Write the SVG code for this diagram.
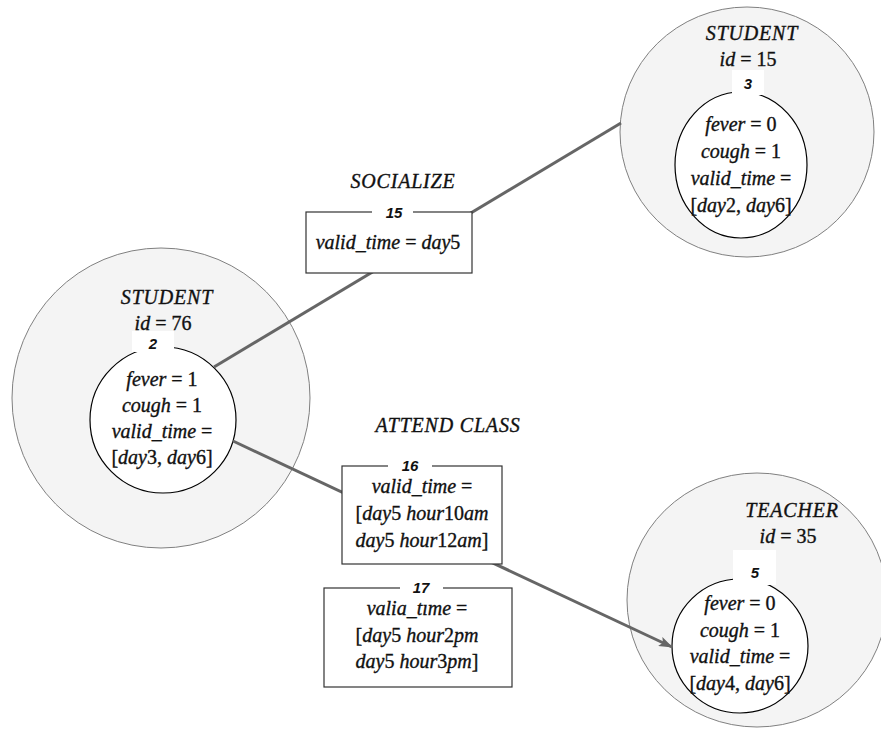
<svg xmlns="http://www.w3.org/2000/svg" width="881" height="733" viewBox="0 0 881 733">
  <style>
    .outer { fill: #f4f4f4; stroke: #808080; stroke-width: 1; }
    .inner { fill: #ffffff; stroke: #000000; stroke-width: 1.2; }
    .box { fill: #ffffff; stroke: #333333; stroke-width: 1.2; }
    .gap { fill: #ffffff; stroke: none; }
    .edge { fill: none; stroke: #666666; stroke-width: 3; }
    .m { font-family: "Liberation Serif", "DejaVu Serif", serif; font-size: 20px; fill: #111111; stroke: #111111; stroke-width: 0.35; text-anchor: middle; }
    .i { font-style: italic; }
    .cap { letter-spacing: 0.8px; }
    .num { font-family: "Liberation Sans", Arial, sans-serif; font-size: 15px; font-weight: bold; font-style: italic; fill: #111111; text-anchor: middle; }
  </style>
  <defs>
    <marker id="arrow" markerWidth="14" markerHeight="10" refX="13" refY="5" orient="auto" markerUnits="userSpaceOnUse">
      <path d="M0,0 L14,5 L0,10 L3,5 Z" fill="#666666"/>
    </marker>
  </defs>

  <!-- entity nodes -->
  <g id="node-student-15">
    <ellipse class="outer" cx="747" cy="132" rx="127" ry="125"/>
    <ellipse class="inner" cx="741" cy="165" rx="66" ry="73"/>
    <text class="m i cap" x="752" y="40">STUDENT</text>
    <text class="m" x="748" y="66"><tspan class="i">id</tspan> = 15</text>
    <rect class="gap" x="732" y="70" width="32" height="25"/>
    <text class="num" x="748" y="89">3</text>
    <text class="m" x="741" y="131"><tspan class="i">fever</tspan> = 0</text>
    <text class="m" x="741" y="158"><tspan class="i">cough</tspan> = 1</text>
    <text class="m" x="741" y="185"><tspan class="i">valid_time</tspan> =</text>
    <text class="m" x="741" y="212">[<tspan class="i">day</tspan>2, <tspan class="i">day</tspan>6]</text>
  </g>

  <g id="node-student-76">
    <ellipse class="outer" cx="161" cy="398" rx="149" ry="150"/>
    <ellipse class="inner" cx="163" cy="420" rx="73" ry="73"/>
    <text class="m i cap" x="167" y="304">STUDENT</text>
    <text class="m" x="163" y="330"><tspan class="i">id</tspan> = 76</text>
    <rect class="gap" x="132" y="331" width="42" height="21"/>
    <text class="num" x="153" y="349">2</text>
    <text class="m" x="162" y="386"><tspan class="i">fever</tspan> = 1</text>
    <text class="m" x="162" y="412"><tspan class="i">cough</tspan> = 1</text>
    <text class="m" x="162" y="438"><tspan class="i">valid_time</tspan> =</text>
    <text class="m" x="162" y="464">[<tspan class="i">day</tspan>3, <tspan class="i">day</tspan>6]</text>
  </g>

  <g id="node-teacher-35">
    <ellipse class="outer" cx="757" cy="600" rx="130" ry="127"/>
    <ellipse class="inner" cx="740" cy="646" rx="68" ry="67"/>
    <text class="m i cap" x="792" y="517">TEACHER</text>
    <text class="m" x="788" y="543"><tspan class="i">id</tspan> = 35</text>
    <rect class="gap" x="733" y="550" width="43" height="35"/>
    <text class="num" x="755" y="578">5</text>
    <text class="m" x="740" y="610"><tspan class="i">fever</tspan> = 0</text>
    <text class="m" x="740" y="637"><tspan class="i">cough</tspan> = 1</text>
    <text class="m" x="740" y="663"><tspan class="i">valid_time</tspan> =</text>
    <text class="m" x="740" y="690">[<tspan class="i">day</tspan>4, <tspan class="i">day</tspan>6]</text>
  </g>

  <!-- relationship connectors -->
  <g id="connectors">
    <line class="edge" x1="214" y1="367" x2="621" y2="123"/>
    <line class="edge" x1="233" y1="441" x2="672" y2="647" marker-end="url(#arrow)"/>
  </g>

  <!-- relationship labels and their property boxes -->
  <g id="edge-socialize-15">
    <text class="m i cap" x="403" y="188">SOCIALIZE</text>
    <rect class="box" x="306" y="212" width="166" height="61"/>
    <rect class="gap" x="372" y="205" width="41" height="14"/>
    <text class="num" x="394" y="218">15</text>
    <text class="m" x="388" y="249"><tspan class="i">valid_time</tspan> = <tspan class="i">day</tspan>5</text>
  </g>

  <g id="edge-attend-16">
    <text class="m i cap" x="448" y="432">ATTEND CLASS</text>
    <rect class="box" x="342" y="466" width="160" height="98"/>
    <rect class="gap" x="388" y="459" width="44" height="14"/>
    <text class="num" x="410" y="471">16</text>
    <text class="m" x="422" y="493"><tspan class="i">valid_time</tspan> =</text>
    <text class="m" x="422" y="520">[<tspan class="i">day</tspan>5 <tspan class="i">hour</tspan>10<tspan class="i">am</tspan></text>
    <text class="m" x="422" y="547"><tspan class="i">day</tspan>5 <tspan class="i">hour</tspan>12<tspan class="i">am</tspan>]</text>
  </g>

  <g id="edge-attend-17">
    <rect class="box" x="324" y="588" width="188" height="99"/>
    <rect class="gap" x="400" y="581" width="43" height="14"/>
    <text class="num" x="421" y="593">17</text>
    <text class="m" x="417" y="615"><tspan class="i">valia_tıme</tspan> =</text>
    <text class="m" x="417" y="642">[<tspan class="i">day</tspan>5 <tspan class="i">hour</tspan>2<tspan class="i">pm</tspan></text>
    <text class="m" x="417" y="668"><tspan class="i">day</tspan>5 <tspan class="i">hour</tspan>3<tspan class="i">pm</tspan>]</text>
  </g>
</svg>
